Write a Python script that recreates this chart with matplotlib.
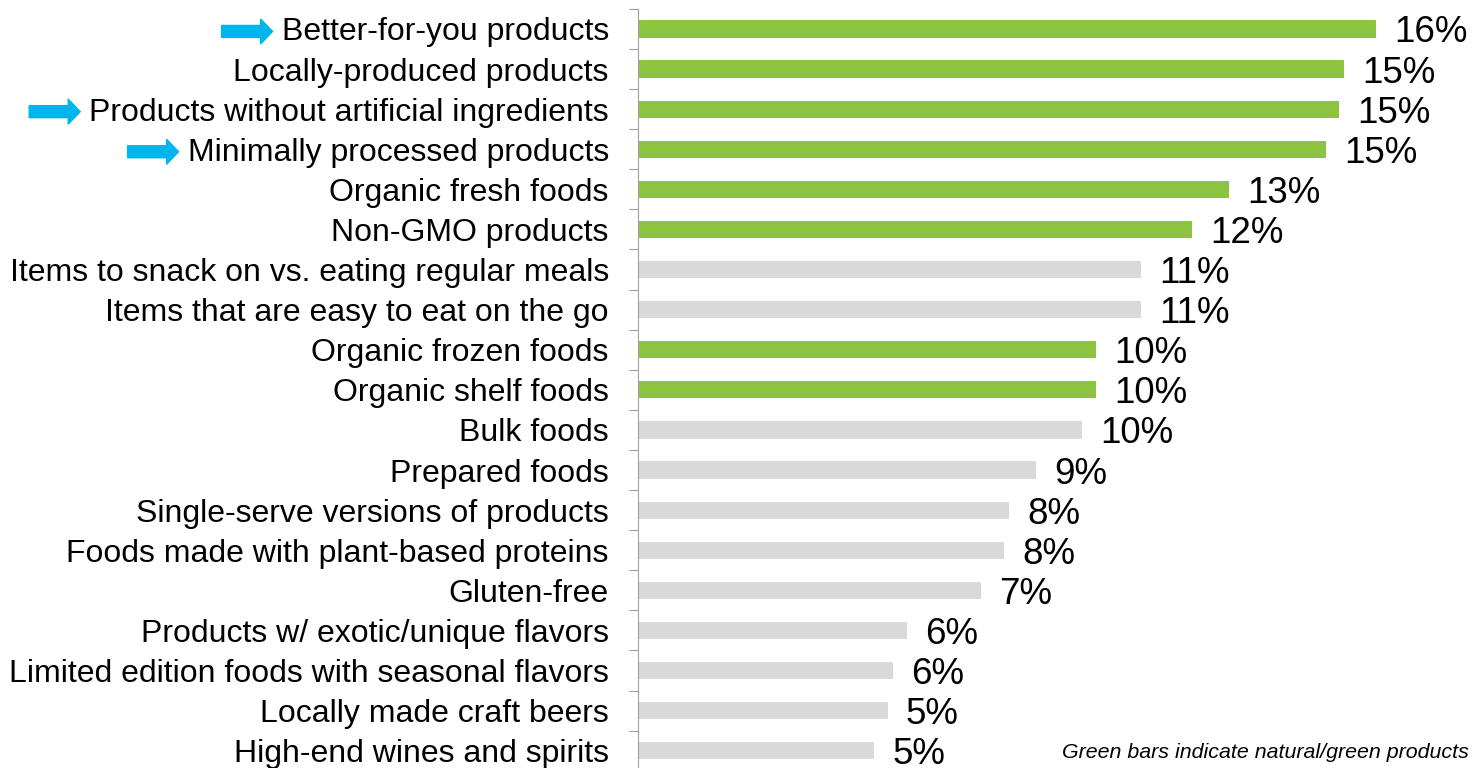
import matplotlib
matplotlib.use("Agg")
import matplotlib.pyplot as plt
from matplotlib.patches import FancyArrow
from matplotlib.transforms import IdentityTransform

plt.rcParams['font.family'] = ['Liberation Sans', 'DejaVu Sans']

categories = [
    "Better-for-you products",
    "Locally-produced products",
    "Products without artificial ingredients",
    "Minimally processed products",
    "Organic fresh foods",
    "Non-GMO products",
    "Items to snack on vs. eating regular meals",
    "Items that are easy to eat on the go",
    "Organic frozen foods",
    "Organic shelf foods",
    "Bulk foods",
    "Prepared foods",
    "Single-serve versions of products",
    "Foods made with plant-based proteins",
    "Gluten-free",
    "Products w/ exotic/unique flavors",
    "Limited edition foods with seasonal flavors",
    "Locally made craft beers",
    "High-end wines and spirits",
]
values = [16.04, 15.35, 15.24, 14.96, 12.85, 12.04, 10.93, 10.93, 9.96, 9.96,
          9.65, 8.65, 8.07, 7.96, 7.46, 5.85, 5.54, 5.43, 5.13]
is_green = [True, True, True, True, True, True, False, False, True, True,
            False, False, False, False, False, False, False, False, False]
highlighted = ["Better-for-you products",
               "Products without artificial ingredients",
               "Minimally processed products"]

GREEN = "#8CC43F"
GREY = "#D9D9D9"
BLUE = "#00B4EC"

W, H = 1472, 768
fig = plt.figure(figsize=(W / 100, H / 100), dpi=100)
ax = fig.add_axes([638 / W, -0.0036, 1 - 638 / W, 0.992])

pos = list(range(len(categories)))
colors = [GREEN if g else GREY for g in is_green]
ax.barh(pos, values, height=0.43, color=colors)

for y, v in zip(pos, values):
    ax.annotate(f"{v:.0f}%", (v, y), xytext=(13, 0), textcoords="offset points",
                va="center_baseline", ha="left", fontsize=26.5)

ax.set_xlim(0, 18.13)
ax.set_ylim(len(categories) - 0.5, -0.5)
ax.set_yticks(pos)
ax.set_yticklabels(categories, fontsize=23)
ax.set_yticks([p - 0.5 for p in pos] + [len(pos) - 0.5], minor=True)
ax.tick_params(axis="y", which="major", length=0, pad=21)
ax.tick_params(axis="y", which="minor", length=6.5, width=0.8, color="#A0A0A0")
ax.set_xticks([])
for side in ["top", "right", "bottom"]:
    ax.spines[side].set_visible(False)
ax.spines["left"].set_color("#A0A0A0")
ax.spines["left"].set_linewidth(0.8)

fig.text(0.998, 0.013, "Green bars indicate natural/green products",
         ha="right", va="baseline", fontsize=15.4, style="italic")

# blue arrows pointing at the highlighted labels
fig.canvas.draw()
renderer = fig.canvas.get_renderer()
for lab in ax.get_yticklabels():
    if lab.get_text() in highlighted:
        bb = lab.get_window_extent(renderer)
        yc = (bb.y0 + bb.y1) / 2 + 1
        tip = bb.x0 - 9
        arr = FancyArrow(tip - 51, yc, 51, 0, width=12, head_width=25,
                         head_length=12, length_includes_head=True,
                         color=BLUE, transform=IdentityTransform())
        fig.patches.append(arr)

fig.savefig("out.png", dpi=100)
